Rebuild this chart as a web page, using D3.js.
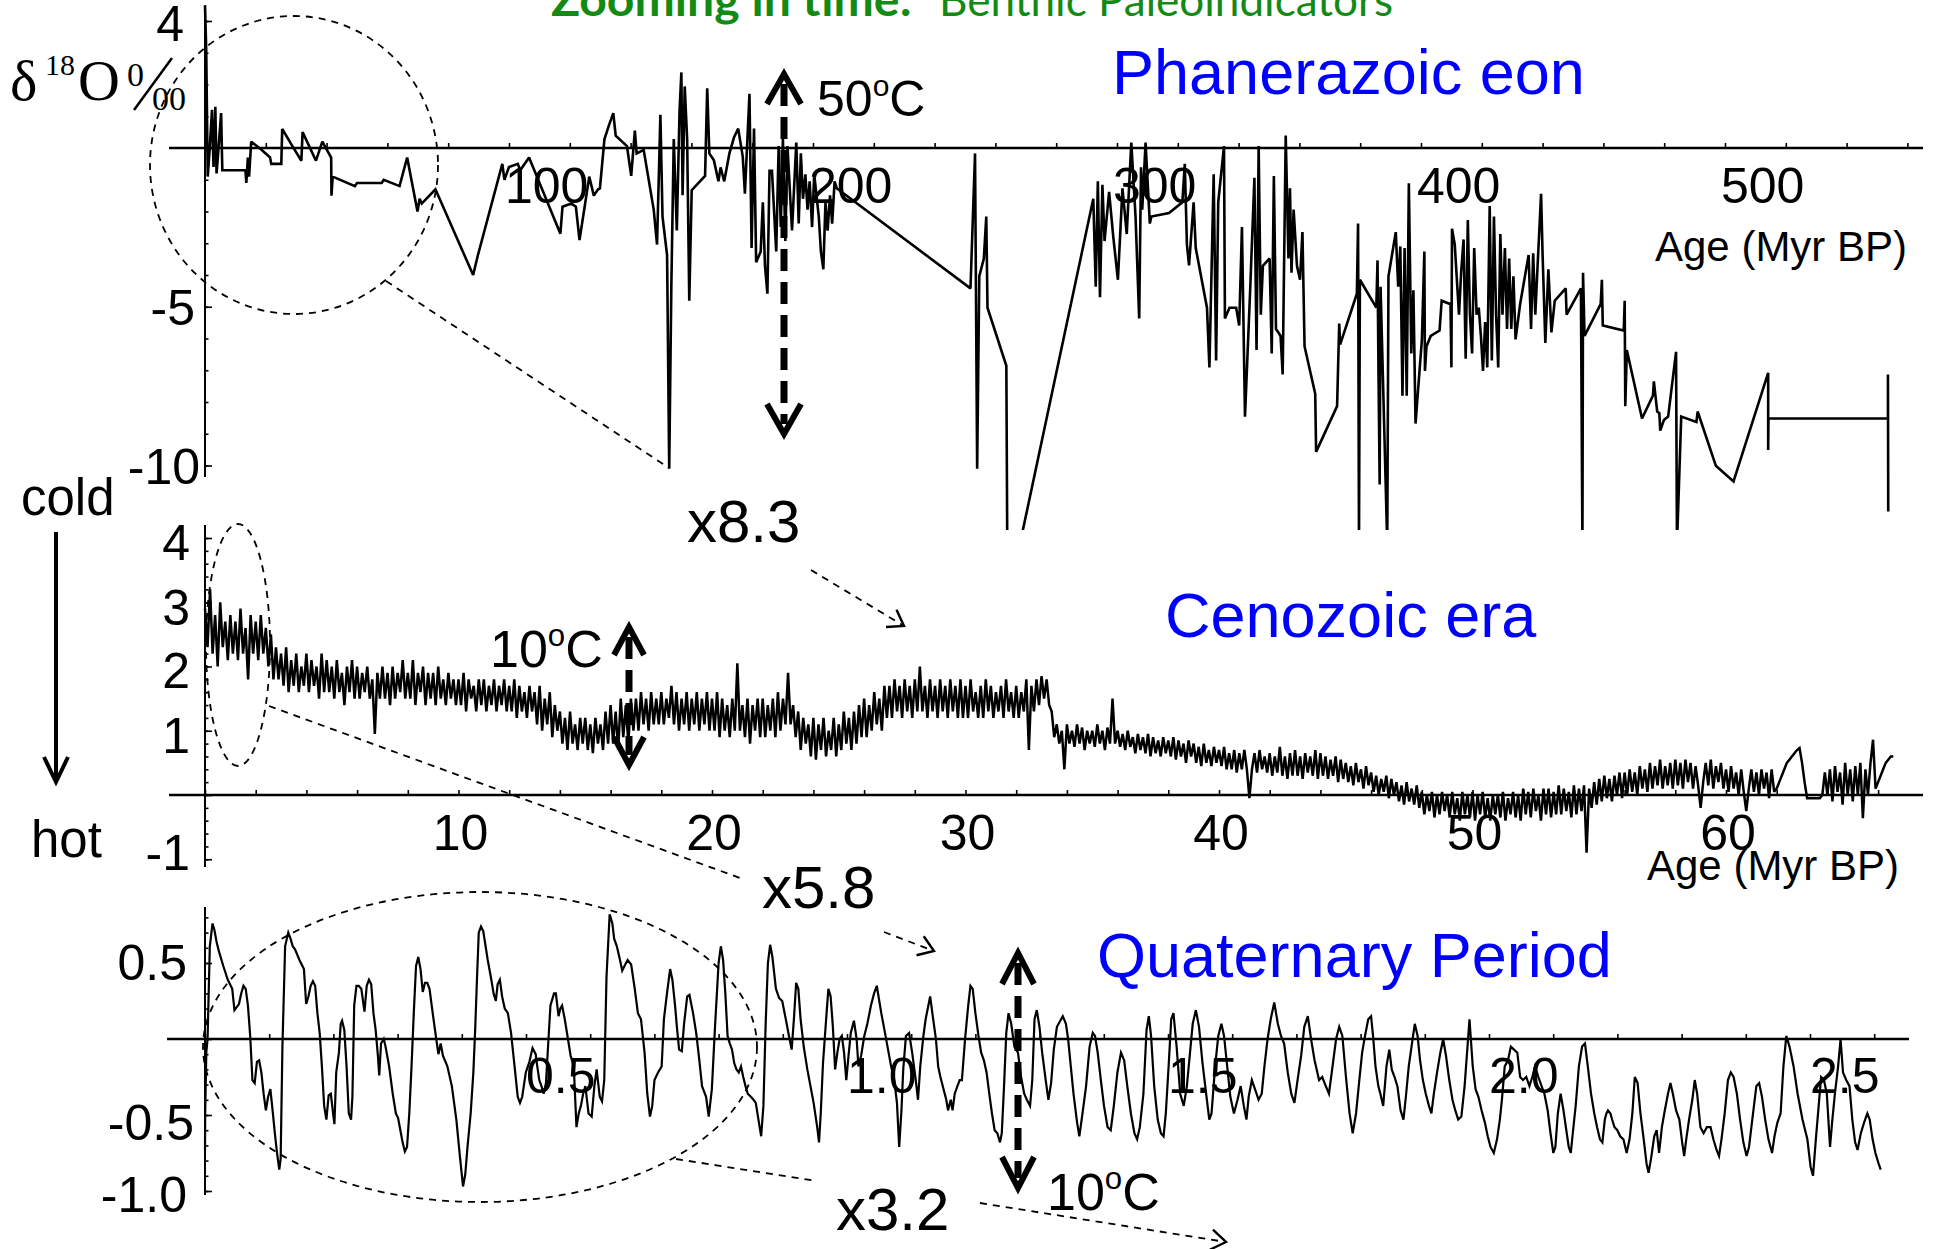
<!DOCTYPE html>
<html><head><meta charset="utf-8">
<script src="https://cdn.jsdelivr.net/npm/d3@7"></script>
<style>
body{margin:0;background:#fff;}
text{font-family:"Liberation Sans",Arial,sans-serif;}
</style></head><body>
<svg id="c" width="1933" height="1249"></svg>
<script>
// ---------- DATA ----------
// Phanerozoic eon: [age Myr BP, d18O permil]
const phanerozoic = [[0,4.5],[0.4,3.1],[0.9,-0.9],[1.6,0.05],[2.3,1.2],[2.8,-0.6],[3.4,1.3],[3.8,-0.8],[4.5,0.05],[5.3,1.1],[5.7,-0.7],[13.3,-0.7],[13.6,-1.1],[14.1,-0.3],[14.5,-0.9],[15.2,0.2],[18.5,-0.05],[21.4,-0.3],[21.8,-0.5],[25.1,-0.5],[25.4,0.6],[28.8,0.05],[31.7,-0.4],[32.1,0.5],[36.5,-0.4],[38.6,0.2],[41.5,-0.3],[41.6,-1.5],[42,-0.9],[49.3,-1.2],[50,-1.1],[58.1,-1.1],[58.8,-1.0],[64,-1.2],[66.5,-0.3],[69.9,-2.0],[70.6,-1.6],[71.3,-1.75],[75.8,-1.3],[88.2,-4.0],[89.7,-3.4],[97.8,-0.5],[98.5,-1.0],[100,-0.6],[102.9,-0.5],[103.7,-0.7],[106.6,-0.3],[116.9,-2.7],[117.6,-1.85],[120.5,-1.75],[122,-1.85],[123.2,-2.9],[126.4,-0.9],[127.9,-1.5],[129.3,-1.3],
[129.9,-1.27],[131.4,0.28],[132.9,0.72],[134.3,1.1],[135.1,0.39],[138.8,0.06],[140.2,-0.88],[141.4,0.55],[142,-0.17],[144.3,-0.06],[147.6,-1.94],[148.7,-3.04],[149.8,1.05],[150.5,-2.16],[152,-3.37],[152.7,-10.1],[153.4,-4.37],[154.2,0.28],[155.2,-2.6],[156.1,1.16],[156.7,2.38],[157.1,-1.49],[157.8,1.94],[158.6,0.28],[159.3,-4.81],[160.1,-1.33],[164.5,-0.88],[165.2,1.88],[165.9,-0.17],[167.4,-0.39],[168.9,-1.05],[169.6,-0.61],[170.8,-1.05],[172.5,-0.17],[174,0.33],[175.4,0.61],[176.9,-0.28],[177.6,-1.44],[179.1,1.71],[179.8,-3.15],[180.6,0.61],[181.3,-3.6],[182.8,-3.26],[183.5,-1.71],[184.2,-3.7],[185,-4.59],[185.7,-0.72],[186.5,-0.72],[187.9,-3.26],[188.7,0.06],[189.4,-2.49],[190.1,0.28],[190.9,-2.93],[191.6,0.06],[193.1,-2.6],[194.5,0.17],[195.3,-2.38],[196,-0.17],[196.7,-1.6],[197.5,-0.83],[198.2,-1.94],[198.9,-1.05],[199.7,-2.49],[200.4,-0.83],[201.9,-2.16],[202.6,-3.26],[203.4,-3.82],[204.1,-1.71],[204.8,-2.6],[205.6,-1.49],[206.3,-2.38],[207.1,-1.05],[207.8,-1.27],[251.8,-4.42],[253.3,-0.17],[254,-10.1],[254.7,-4.04],[256.2,-3.48],[257,-2.16],[257.4,-5.03],[263.6,-6.86],[263.9,-12.5],[268,-12.5],[292.2,-1.6],[293,-4.37],[293.7,-1.05],[294.4,-4.7],[295.2,-1.16],[295.9,-2.93],[297.4,-1.38],[298.8,-2.82],[300.3,-4.15],[301.8,-1.27],[303.2,-2.71],[304.7,0.17],[306.1,-2.16],[307.3,-5.37],[307.9,-0.61],[308.3,-1.94],[309.4,0.17],[310.8,-2.38],[311.3,-2.16],[317.1,-2.05],[321.5,-1.71],[322.3,-0.5],[323,-3.04],[323.7,-3.7],[325.2,-1.71],[325.9,-3.15],[329.6,-5.03],[330.4,-6.91],[331.8,-0.83],[332.6,-6.69],[333.3,-1.71],[335.2,0.06],[335.5,-5.37],[337,-5.03],[339.2,-5.03],[340.2,-5.59],[341.1,-2.49],[342.1,-8.46],
[343.8,-4.48],[345.2,-0.94],[345.9,-6.36],[346.6,0.06],[347.3,-5.25],[348,-3.71],[350.2,-3.48],[350.9,-6.47],[351.6,-0.88],[352.3,-5.7],[353.1,-5.81],[353.8,-5.92],[354.5,-7.13],[355.5,0.39],[356.4,-3.48],[356.9,-1.27],[357.4,-3.93],[358.1,-1.94],[359.2,-3.71],[360.2,-4.15],[361,-2.65],[361.7,-6.25],[365.2,-7.74],[365.5,-9.57],[372.4,-8.13],[373.1,-5.53],[373.4,-6.19],[378.9,-4.59],[379.3,-2.38],[379.6,-12.5],[379.9,-4.15],[385.3,-5.03],[385.7,-3.54],[386,-6.91],[386.4,-10.6],[386.7,-4.37],[388.9,-12.5],[389.3,-4.04],[391.7,-2.65],[392.5,-4.37],[393.2,-3.1],[393.9,-7.8],[394.6,-3.15],[395.3,-7.8],[396,-1.11],[396.8,-6.47],[397.5,-4.48],[398.2,-8.68],[400.3,-6.03],[401.1,-3.26],[401.3,-7.02],[401.8,-6.25],[403.2,-5.92],[406.1,-5.75],[406.8,-4.81],[409.7,-4.92],[410,-6.91],[410.2,-2.54],[411.1,-3.04],[412.5,-5.25],[413.2,-3.93],[414,-2.88],[414.7,-6.64],[415.4,-2.27],[416.1,-5.25],[416.8,-6.47],[417.5,-3.15],[418.3,-5.25],[419,-5.03],[419.7,-5.92],[420.4,-7.02],[421.1,-5.48],[421.8,-6.91],[422.6,-1.83],[423.3,-6.69],[424,-2.16],[424.7,-5.25],[425.4,-6.91],[426.1,-2.71],[426.8,-5.25],[427.6,-3.15],[428.3,-5.7],[429,-3.48],[429.7,-5.7],[430.4,-4.04],[431.1,-6.03],[432.6,-4.92],[435.4,-3.37],[436.2,-5.7],[436.9,-3.32],[437.6,-5.25],[438.3,-3.82],[439.5,-1.44],[440,-3.37],[440.9,-6.14],[441.9,-3.82],[442.9,-5.81],[444,-4.81],[447.6,-4.42],[447.9,-5.25],[452.6,-4.42],[453.1,-12.5],[453.3,-3.93],[453.8,-5.92],[459.1,-4.92],[459.5,-4.15],[459.8,-5.59],[466.7,-5.75],[467,-4.81],[467.2,-8.13],[467.7,-6.36],[472.7,-8.52],[476.3,-7.8],[476.6,-7.35],[477.7,-8.3],[478.4,-8.35],[478.7,-8.9],[479.9,-8.57],[481.3,-8.46],[483.9,-6.42],[484.2,-12.5],[485.6,-8.46],[490.6,-8.63],[491,-8.3],[497,-10.01],[502.8,-10.5],[514.2,-7.08],[514.2,-9.51],[514.3,-8.52],[553.6,-8.52],[553.6,-7.13],[553.7,-11.45]];

// Cenozoic era: d18O sampled every 0.1 Myr from 0 Myr BP (one row per Myr)
const cenoStep = 0.1;
const cenozoic = [
2.9,2.3,3.2,2.2,2.8,2.0,3.0,2.3,2.7,2.1,
2.8,2.2,2.7,2.1,2.9,2.2,2.6,1.8,2.8,2.2,
2.7,2.1,2.8,2.2,2.6,2.0,2.5,1.8,2.3,1.8,
2.2,1.7,2.3,1.6,2.1,1.7,2.2,1.6,2.0,1.7,
2.2,1.6,2.1,1.7,2.0,1.5,2.2,1.6,2.1,1.6,
2.0,1.5,2.1,1.6,1.9,1.4,2.0,1.6,2.1,1.5,
2.0,1.5,1.9,1.6,2.0,1.5,1.8,0.95,1.9,1.5,
2.0,1.5,1.9,1.4,2.0,1.5,1.9,1.6,2.1,1.5,
1.9,1.5,2.1,1.4,1.9,1.6,2.0,1.4,1.9,1.5,
1.9,1.4,2.0,1.5,1.8,1.4,1.9,1.5,1.8,1.4,
1.8,1.4,1.9,1.3,1.8,1.5,1.7,1.3,1.8,1.4,
1.8,1.3,1.7,1.4,1.8,1.3,1.7,1.4,1.8,1.3,
1.7,1.3,1.8,1.2,1.7,1.3,1.6,1.2,1.7,1.3,
1.6,1.1,1.7,1.0,1.5,1.1,1.6,0.9,1.4,1.0,
1.3,0.8,1.2,0.7,1.3,0.8,1.1,0.7,1.2,0.8,
1.2,0.7,1.1,0.65,1.2,0.8,1.1,0.7,1.3,0.8,
1.4,0.8,1.3,0.7,1.5,0.9,1.4,0.8,1.5,1.0,
1.5,1.0,1.6,1.1,1.5,1.0,1.6,1.1,1.5,1.1,
1.6,1.1,1.5,1.2,1.7,1.1,1.6,1.0,1.5,1.1,
1.6,1.0,1.5,1.1,1.6,1.0,1.5,1.1,1.6,1.0,
1.5,1.0,1.6,0.9,1.5,1.0,1.4,0.9,1.5,1.0,
2.05,1.0,1.4,0.9,1.5,0.8,1.4,1.0,1.5,0.9,
1.5,0.9,1.4,1.0,1.5,0.9,1.6,1.0,1.5,1.1,
1.9,1.1,1.4,0.9,1.3,0.7,1.2,0.8,1.1,0.6,
1.2,0.55,1.1,0.7,1.2,0.6,1.0,0.7,1.2,0.6,
1.1,0.7,1.3,0.8,1.2,0.7,1.3,0.8,1.4,0.9,
1.5,0.9,1.4,1.0,1.6,1.1,1.5,1.0,1.7,1.2,
1.7,1.2,1.8,1.3,1.7,1.2,1.8,1.3,1.7,1.2,
1.8,1.3,2.0,1.3,1.7,1.2,1.8,1.3,1.7,1.2,
1.8,1.3,1.7,1.2,1.8,1.3,1.7,1.2,1.8,1.2,
1.7,1.2,1.8,1.3,1.6,1.2,1.7,1.2,1.8,1.3,
1.7,1.2,1.6,1.3,1.7,1.2,1.8,1.3,1.6,1.2,
1.7,1.2,1.6,1.3,1.8,0.7,1.7,1.3,1.8,1.4,
1.85,1.5,1.8,1.4,1.3,0.9,1.1,0.8,1.0,0.4,
1.1,0.8,1.0,0.75,1.1,0.8,1.05,0.7,1.0,0.8,
1.0,0.75,1.1,0.8,1.0,0.7,1.05,0.8,1.5,0.8,
1.0,0.75,0.95,0.7,1.0,0.75,0.9,0.65,0.95,0.7,
0.9,0.65,0.95,0.6,0.9,0.65,0.85,0.6,0.9,0.65,
0.85,0.6,0.9,0.55,0.85,0.6,0.8,0.5,0.85,0.6,
0.8,0.5,0.75,0.45,0.8,0.5,0.7,0.45,0.75,0.5,
0.7,0.45,0.75,0.4,0.65,0.4,0.7,0.35,0.65,0.4,
0.7,0.4,-0.05,0.4,0.65,0.35,0.7,0.4,0.6,0.35,
0.65,0.3,0.6,0.35,0.75,0.3,0.6,0.25,0.65,0.3,
0.7,0.3,0.6,0.25,0.65,0.35,0.6,0.3,0.7,0.25,
0.65,0.3,0.6,0.25,0.55,0.3,0.6,0.2,0.55,0.25,
0.5,0.2,0.45,0.15,0.5,0.2,0.4,0.1,0.45,0.15,
0.35,0.05,0.3,0.0,0.25,0.05,0.3,-0.05,0.25,0.0,
0.2,-0.1,0.15,-0.15,0.2,-0.1,0.1,-0.15,0.15,-0.2,
0.05,-0.3,0.0,-0.25,0.05,-0.35,0.0,-0.3,0.05,-0.25,
0.0,-0.35,0.05,-0.3,-0.05,-0.4,0.05,-0.3,0.0,-0.35,
0.05,-0.4,0.0,-0.3,0.05,-0.35,-0.05,-0.4,0.0,-0.3,
0.0,-0.35,0.05,-0.4,-0.05,-0.3,0.05,-0.35,0.0,-0.4,
0.1,-0.3,0.05,-0.35,0.1,-0.25,0.0,-0.4,0.1,-0.3,
0.1,-0.35,0.05,-0.3,0.15,-0.3,0.1,-0.25,0.05,-0.35,
0.15,-0.3,0.1,-0.25,0.15,-0.9,0.1,-0.2,0.2,-0.15,
0.25,-0.1,0.3,-0.05,0.25,-0.1,0.3,0.0,0.35,-0.05,
0.35,0.0,0.4,0.05,0.35,0.0,0.45,0.1,0.4,0.05,
0.5,0.1,0.45,0.15,0.55,0.1,0.45,0.15,0.5,0.1,
0.55,0.15,0.5,0.1,0.55,0.2,0.5,0.1,0.45,0.15,
-0.2,0.2,0.5,0.15,0.55,0.1,0.45,0.2,0.5,0.1,
0.4,0.05,0.45,0.1,0.35,0.0,0.4,0.05,-0.25,0.1,
0.4,0.05,0.35,0.0,0.4,0.1,0.35,-0.05,0.4,0.05,
0.1,0.2,0.3,0.4,0.5,0.55,0.6,0.65,0.7,0.73,
0.5,0.2,-0.05,-0.05,-0.05,-0.05,-0.05,-0.05,0.0,0.35,
0.0,0.4,-0.1,0.45,0.05,0.35,-0.15,0.5,0.0,0.4,
-0.1,0.45,0.0,0.5,-0.36,0.4,0.0,0.5,0.86,0.1,
0.2,0.3,0.4,0.5,0.55,0.6,0.6];

// Quaternary period: [age kyr BP, d18O anomaly]
const quaternary = [[0,-0.73],[0.3,-0.49],[2,-0.09],[4,0],[7.5,0.61],[11.7,0.76],[14.5,0.72],[18,0.64],[21.5,0.58],[28.5,0.48],[35.5,0.39],[42.4,0.33],[45.9,0.19],[52.9,0.23],[56.4,0.3],[59.9,0.35],[63.4,0.33],[66.9,0.22],[70.4,0.02],[73.9,-0.27],[77.4,-0.29],[80.9,-0.15],[84.3,-0.14],[87.8,-0.22],[91.3,-0.36],[94.8,-0.47],[98.3,-0.38],[101.8,-0.33],[105.3,-0.47],[108.8,-0.62],[112.2,-0.75],[115.7,-0.86],[117.8,-0.79],[120.6,-0.05],[124.8,0.61],[129.7,0.7],[133.2,0.66],[136.7,0.61],[140.2,0.59],[147.1,0.52],[154.1,0.46],[157.6,0.23],[161.1,0.28],[164.6,0.35],[168.1,0.38],[171.6,0.35],[175.1,0.17],[178.6,0.04],[182.1,-0.18],[185.6,-0.44],[189.1,-0.53],[192.6,-0.37],[196,-0.36],[199.5,-0.49],[201.6,-0.56],[204.4,-0.22],[208.6,-0.09],[211.4,0.1],[213.5,0.12],[217,0.06],[220.5,-0.18],[224,-0.49],[227.5,-0.53],[229.6,-0.38],[232.4,0.22],[235.9,0.35],[239.4,0.35],[243.5,0.33],[248.4,0.18],[251.9,0.35],[255.4,0.39],[258.9,0.36],[262.4,0.17],[265.8,0.06],[269.3,-0.11],[271.4,-0.24],[274.2,-0.03],[278.4,0],[281.2,-0.05],[286.8,-0.18],[292.4,-0.36],[297.3,-0.49],[300.8,-0.52],[304.3,-0.6],[307.8,-0.68],[311.3,-0.74],[314.7,-0.71],[318.2,-0.49],[321.7,-0.18],[325.2,0.17],[328.7,0.48],[332.2,0.54],[335.7,0.46],[339.2,0.31],[342.7,0.37],[346.2,0.37],[349.7,0.33],[355.3,0.15],[360.2,0],[363.6,-0.1],[367.1,-0.03],[370.6,-0.11],[377.5,-0.18],[384.5,-0.31],[391.5,-0.53],[397,-0.77],[401.9,-0.97],[405.4,-0.89],[408.9,-0.71],[413.8,-0.49],[418,-0.22],[420.8,0.06],[423.6,0.39],[426.4,0.7],[429.9,0.74],[433.4,0.71],[440.4,0.52],[446,0.39],[449.5,0.3],[453,0.25],[455.8,0.36],[459.3,0.39],[462.8,0.28],[466.9,0.2],[471.8,0.17],[476.7,0.04],[482.2,-0.18],[487.1,-0.38],[490.6,-0.42],[494.1,-0.38],[499.7,-0.22],[505.3,-0.15],[510.2,-0.06],[515.1,-0.1],[517.2,-0.17],[520.7,-0.27],[524.1,-0.31],[527.6,-0.36],[531.1,-0.29],[534.6,-0.03],[538.1,0.22],[543.7,0.3],[546.5,0.3],[550.7,0.15],[553.4,0.2],[556.2,0.22],[560.4,0.13],[564.6,0.02],[569.5,-0.11],[574.4,-0.18],[578.6,-0.58],[582.1,-0.49],[585.5,-0.44],[589,-0.36],[592.5,-0.31],[597.4,-0.49],[602.3,-0.51],[606.5,-0.31],[610,-0.2],[614.9,-0.38],[618.4,-0.41],[621.9,-0.27],[625.4,0.41],[630.3,0.82],[634.5,0.76],[637.3,0.66],[641.5,0.61],[646.4,0.52],[649.9,0.45],[653.4,0.48],[658.3,0.52],[663.8,0.49],[669.4,0.33],[674.3,0.17],[679.1,0.13],[684.7,-0.09],[688.9,-0.36],[693.1,-0.51],[696.6,-0.44],[700.1,-0.27],[705.7,-0.22],[711.3,-0.18],[714.8,0.13],[719.6,0.3],[724.5,0.46],[728,0.39],[732.2,0.22],[735,0.08],[738.5,-0.07],[742.7,-0.08],[746.2,0.1],[751.1,0.28],[754.6,0.29],[760.2,0.17],[765.1,0.04],[770,-0.14],[774.2,-0.31],
[780.5,-0.38],[784.6,-0.51],[789.5,-0.33],[794.4,0.08],[800,0.5],[803.5,0.61],[807,0.52],[810.5,0.3],[814,0.02],[817.5,-0.03],[820.9,-0.07],[824.4,-0.16],[827.9,-0.2],[831.4,-0.22],[834.9,-0.18],[838.4,-0.25],[841.9,-0.31],[845.4,-0.36],[850.3,-0.38],[854.4,-0.4],[857.9,-0.42],[862.8,-0.55],[866.3,-0.64],[869.8,-0.44],[873.3,0.1],[876.8,0.5],[880.3,0.62],[883.8,0.54],[889.3,0.33],[894.2,0.27],[899.1,0.25],[904.7,0.13],[909.6,0.02],[913.8,-0.07],[917.3,0.13],[920.8,0.37],[924.2,0.33],[927.7,0.13],[932.6,-0.05],[938.2,-0.2],[943.1,-0.31],[948,-0.42],[953.6,-0.58],[956.4,-0.68],[959.1,-0.49],[962.6,-0.16],[967.5,0.13],[971,0.33],[974.5,0.28],[978,0.08],[981.5,-0.2],[985,-0.09],[988.5,0],[992,0.02],[995.4,-0.09],[998.9,-0.27],[1002.4,-0.11],[1005.9,0.04],[1010.8,0.12],[1015,0],[1017.8,-0.18],[1022,-0.11],[1026.9,0.02],[1031.7,0.1],[1037.3,0.22],[1042.2,0.3],[1046.4,0.35],[1049.9,0.26],[1053.4,0.17],[1058.3,0.06],[1063.1,-0.05],[1068.7,-0.18],[1073.6,-0.27],[1077.8,-0.42],[1081.3,-0.71],[1084.8,-0.47],[1087.6,-0.2],[1091.8,0.02],[1096.7,0.04],[1101.5,-0.09],[1107.1,-0.27],[1110.6,-0.4],[1114.1,-0.18],[1119,0.02],[1122.5,0.13],[1126.7,0.22],[1129.5,0.28],[1133.6,0.15],[1138.5,0],[1142,-0.18],[1145.5,-0.25],[1150.4,-0.33],[1154.6,-0.4],[1157.4,-0.47],[1161.6,-0.4],[1164.4,-0.47],[1167.8,-0.36],[1172,-0.31],[1175.5,-0.27],[1179,-0.27],[1183.9,0],[1188.8,0.22],[1192.3,0.35],[1195.8,0.33],[1200,0.17],[1204.8,0.02],[1209,-0.09],[1213.2,-0.14],[1217.4,-0.22],[1221.6,-0.36],[1225.8,-0.49],[1230,-0.6],[1234.2,-0.62],[1238.3,-0.68],[1241.1,-0.62],[1244.6,-0.31],[1248.1,0.04],[1251.6,0.17],[1255.8,0.1],[1260.7,-0.05],[1266.3,-0.09],[1271.2,-0.25],[1276,-0.36],[1280.2,-0.4],[1285.1,-0.44],[1288.6,-0.27],[1292.1,0.13],[1295.6,0.19],[1299.8,0.08],[1304,-0.09],[1309.5,-0.27],[1313.7,-0.4],[1317.9,-0.29],[1322.1,-0.07],[1327,0.08],[1336.1,0.15],[1341,0.1],[1344.4,0],[1348.6,-0.18],[1352.8,-0.36],[1358.4,-0.55],[1361.9,-0.64],[1366.8,-0.49],[1372.4,-0.31],[1377.9,-0.05],[1382.8,0.04],[1386.3,0.02],[1390.5,-0.09],[1395.4,-0.27],[1400.3,-0.44],[1405.9,-0.58],[1410.8,-0.6],[1415.6,-0.44],[1421.2,-0.22],[1426.8,-0.09],[1431.7,-0.14],[1436.6,-0.31],[1442.2,-0.49],[1447.7,-0.62],[1451.9,-0.66],[1456.1,-0.58],[1461.7,-0.36],[1466.6,0.06],[1470.1,0.15],[1473.6,0.02],[1478.5,-0.31],[1484,-0.53],[1488.9,-0.62],[1493.1,-0.64],[1496.6,-0.49],[1501.5,-0.14],[1505,0.13],[1508.5,0.17],[1513.4,-0.05],[1519,-0.36],[1524.5,-0.44],[1529.4,-0.31],[1534.3,-0.09],[1538.5,0.1],[1543.4,0.19],[1548.3,0.08],[1553.8,-0.16],[1559.4,-0.36],[1564.3,-0.53],[1567.8,-0.49],[1573.4,-0.18],[1578.3,0.02],[1583.2,0.1],[1587.3,0.02],[1592.2,-0.18],[1597.1,-0.38],[1602.7,-0.49],[1608.3,-0.4],[1613.2,-0.31],[1618.1,-0.44],[1622.2,-0.53],[1625.7,-0.38],[1630.6,-0.27],[1635.5,-0.33],[1641.1,-0.4],[1646,-0.36],[1650.2,-0.18],[1655.1,0],[1660,0.13],[1665.5,0.24],[1671.1,0.1],[1676,0.02],[1680.9,-0.03],[1686.5,-0.22],[1692,-0.36],[1696.9,-0.42],[1701.8,-0.27],[1707.4,-0.11],[1712.3,0.08],[1717.8,0.15],[1722.8,0],[1728.3,-0.14],[1735.3,-0.27],[1740.2,-0.25],[1745.8,-0.31],[1750.7,-0.36],[1756.3,-0.18],[1761.8,0],[1766.7,0.08],[1771.6,0.02],[1777.2,-0.25],[1782.8,-0.49],[1787.7,-0.62],
[1792.9,-0.49],[1798,-0.27],[1802.4,-0.09],[1806.8,0.02],[1811.9,0.13],[1816.3,0.15],[1819.4,0.02],[1823.2,-0.18],[1827.6,-0.31],[1830.8,-0.36],[1835.2,-0.44],[1840.3,-0.18],[1844.7,-0.07],[1848.5,-0.2],[1852.9,-0.25],[1857.3,-0.31],[1862.3,-0.47],[1866.8,-0.53],[1870.5,-0.38],[1875,-0.18],[1880,-0.03],[1884.4,0.1],[1888.8,0.02],[1892.6,-0.14],[1897,-0.27],[1901.5,-0.36],[1906.5,-0.44],[1910.3,-0.49],[1914.1,-0.36],[1919.1,-0.22],[1924.2,-0.09],[1928.6,0],[1933,-0.11],[1938.1,-0.27],[1943.1,-0.4],[1947.5,-0.47],[1952,-0.53],[1957,-0.51],[1962,-0.31],[1966.5,-0.05],[1969.6,0.13],[1974.7,-0.18],[1979.1,-0.33],[1983.5,-0.38],[1988.5,-0.47],[1993.6,-0.55],[1998,-0.64],[2002.4,-0.71],[2007.5,-0.75],[2012.5,-0.66],[2016.9,-0.53],[2020.1,-0.4],[2024.5,-0.18],[2029.6,-0.14],[2034,-0.05],[2039,-0.07],[2044.1,-0.09],[2048.5,-0.25],[2052.9,-0.27],[2058,-0.25],[2063,-0.31],[2067.4,-0.25],[2071.8,-0.18],[2076.9,-0.25],[2081.9,-0.31],[2086.3,-0.36],[2091.4,-0.47],[2095.8,-0.62],[2100.2,-0.75],[2103.4,-0.71],[2107.2,-0.49],[2111.6,-0.36],[2116,-0.47],[2121.1,-0.62],[2124.2,-0.71],[2127.4,-0.75],[2130.5,-0.62],[2135,-0.44],[2140,-0.18],[2145,-0.05],[2149.5,-0.03],[2153.9,-0.18],[2158.9,-0.36],[2164,-0.49],[2168.4,-0.58],[2172.8,-0.66],[2176.6,-0.68],[2180.4,-0.53],[2182.9,-0.49],[2185.4,-0.47],[2189.2,-0.49],[2191.7,-0.53],[2195.5,-0.58],[2199.9,-0.6],[2204.3,-0.64],[2209.4,-0.66],[2214.4,-0.75],[2218.9,-0.66],[2223.3,-0.49],[2227.1,-0.25],[2231.5,-0.29],[2235.9,-0.49],[2241,-0.66],[2245.4,-0.82],[2248.5,-0.88],[2252.3,-0.79],[2257.4,-0.64],[2261.2,-0.6],[2264.9,-0.75],[2269.3,-0.58],[2273.8,-0.47],[2278.8,-0.36],[2282.6,-0.29],[2286.4,-0.36],[2291.4,-0.47],[2296.5,-0.53],[2300.9,-0.68],[2304,-0.77],[2307.2,-0.66],[2311.6,-0.53],[2316.7,-0.4],[2320.5,-0.27],[2324.2,-0.36],[2329.3,-0.58],[2334.3,-0.62],[2339.4,-0.58],[2345.1,-0.58],[2349.5,-0.66],[2354.5,-0.73],[2358.3,-0.77],[2362.1,-0.66],[2367.1,-0.49],[2372.2,-0.27],[2376.6,-0.22],[2381,-0.25],[2386.1,-0.36],[2391.1,-0.53],[2396.2,-0.68],[2401.2,-0.77],[2405,-0.71],[2410.1,-0.53],[2416.4,-0.31],[2420.8,-0.29],[2425.2,-0.38],[2430.2,-0.53],[2435.3,-0.66],[2440.9,-0.75],[2444.7,-0.64],[2449.2,-0.55],[2454.2,-0.49],[2458.6,-0.18],[2463.1,0.02],[2468.1,-0.05],[2474.4,-0.18],[2480.7,-0.36],[2488.3,-0.53],[2495.9,-0.66],[2500.9,-0.84],[2504.7,-0.9],[2509.1,-0.66],[2513.5,-0.44],[2517.3,-0.25],[2521.7,-0.27],[2526.2,-0.36],[2531.2,-0.71],[2534.4,-0.55],[2538.8,-0.36],[2543.8,-0.18],[2547.6,0],[2551.4,-0.22],[2556.4,-0.27],[2561.5,-0.31],[2565.9,-0.53],[2570.3,-0.68],[2574.1,-0.73],[2579.2,-0.62],[2584.2,-0.55],[2589.3,-0.49],[2593,-0.53],[2597.5,-0.66],[2601.9,-0.75],[2606.9,-0.82],[2610.1,-0.86]];

// tick labels
const p1XTicks = [100,200,300,400,500];
const p1YTicks = [4,-5,-10];
const p2XTicks = [10,20,30,40,50,60];
const p2YTicks = [4,3,2,1,-1];
const p3XTicks = [500,1000,1500,2000,2500];
const p3XLabels = ["0.5","1.0","1.5","2.0","2.5"];
const p3YTicks = [0.5,-0.5,-1.0];
const p3YLabels = ["0.5","-0.5","-1.0"];

// ---------- DRAW ----------
const svg = d3.select("#c");
const SERIF = "'Liberation Serif','Times New Roman',serif";
const GREEN = "#138a13", BLUE = "#0000ff";

const x1 = d3.scaleLinear().domain([0,500]).range([205,1725]);
const y1 = d3.scaleLinear().domain([0,-10]).range([148,465.5]);
const x2 = d3.scaleLinear().domain([0,60]).range([205,1726]);
const y2 = d3.scaleLinear().domain([0,4]).range([795,538]);
const x3 = d3.scaleLinear().domain([0,2500]).range([205,1810]);
const y3 = d3.scaleLinear().domain([0,-1]).range([1039,1191]);

svg.append("defs").append("clipPath").attr("id","clip1")
  .append("rect").attr("x",150).attr("y",0).attr("width",1783).attr("height",530);

function txt(x,y,s,size,opt={}){
  const t = svg.append("text").attr("x",x).attr("y",y).attr("font-size",size)
    .attr("fill",opt.fill||"#000").attr("text-anchor",opt.anchor||"start").text(s);
  if(opt.family) t.style("font-family",opt.family);
  if(opt.weight) t.attr("font-weight",opt.weight);
  return t;
}
function hLine(x0,xe,y,w){ svg.append("line").attr("x1",x0).attr("x2",xe).attr("y1",y).attr("y2",y).attr("stroke","#000").attr("stroke-width",w); }
function vLine(x,y0,ye,w){ svg.append("line").attr("x1",x).attr("x2",x).attr("y1",y0).attr("y2",ye).attr("stroke","#000").attr("stroke-width",w); }
function ticksX(x,y0,vals){
  const g = svg.append("g").attr("transform",`translate(0,${y0})`)
    .call(d3.axisTop(x).tickValues(vals).tickSize(5).tickSizeOuter(0).tickFormat(""));
  g.select(".domain").remove();
  g.selectAll("line").attr("stroke","#000").attr("stroke-width",1.6);
}
function ticksY(y,x0,vals,len){
  const g = svg.append("g").attr("transform",`translate(${x0},0)`)
    .call(d3.axisRight(y).tickValues(vals).tickSize(len).tickSizeOuter(0).tickFormat(""));
  g.select(".domain").remove();
  g.selectAll("line").attr("stroke","#000").attr("stroke-width",1.6);
}

// ---- Title ----
txt(551,16,"Zooming in time:",45,{fill:GREEN,weight:"bold",family:"Lato,'Open Sans',sans-serif"})
  .attr("textLength",361).attr("lengthAdjust","spacingAndGlyphs");
txt(939,16,"Benthic Paleoindicators",45,{fill:GREEN,family:"Lato,'Open Sans',sans-serif"})
  .attr("textLength",454).attr("lengthAdjust","spacingAndGlyphs");

// ---- Panel 1 : Phanerozoic ----
hLine(169,1923,y1(0),2.5);
vLine(205,7,477,2);
ticksX(x1,y1(0),d3.range(0,561,20));
ticksY(y1,205,[4,0,-5,-10],7);
ticksY(y1,205,d3.range(-10,5,1),3.5);
const line1 = d3.line().x(d=>x1(d[0])).y(d=>y1(d[1]));
svg.append("path").datum(phanerozoic).attr("d",line1).attr("fill","none")
  .attr("stroke","#000").attr("stroke-width",2.6).attr("stroke-linejoin","miter").attr("stroke-miterlimit",2)
  .attr("clip-path","url(#clip1)");
const p1YEnd = {4:184,"-5":195,"-10":200};
p1YTicks.forEach(v=>txt(p1YEnd[v], y1(v)+18 + (v===4?2:0), String(v),50,{anchor:"end"}));
p1XTicks.forEach(v=>txt(x1(v)-4,203,String(v),50));
txt(1655,261,"Age (Myr BP)",42);
txt(1112,94,"Phanerazoic eon",63,{fill:BLUE});

// delta 18 O permil label
txt(10,100,"\u03b4",58,{family:SERIF});
txt(45,75,"18",30,{family:SERIF});
txt(78,100,"O",58,{family:SERIF});
txt(127,86,"0",34,{family:SERIF});
svg.append("line").attr("x1",134).attr("y1",110).attr("x2",172).attr("y2",58).attr("stroke","#000").attr("stroke-width",2.5);
txt(152,110,"00",34,{family:SERIF});

// ---- Panel 2 : Cenozoic ----
hLine(169,1923,y2(0),2.5);
vLine(205,525,867,2);
ticksX(x2,y2(0),d3.range(0,67,2));
ticksY(y2,205,[4,3,2,1,0,-1],7);
ticksY(y2,205,d3.range(-1,4.01,0.2),3.5);
const line2 = d3.line().x((d,i)=>x2(i*cenoStep)).y(d=>y2(d));
svg.append("path").datum(cenozoic).attr("d",line2).attr("fill","none")
  .attr("stroke","#000").attr("stroke-width",2.5).attr("stroke-linejoin","miter").attr("stroke-miterlimit",2);
const p2YBase = {4:560,3:625,2:688,1:753,"-1":870};
p2YTicks.forEach(v=>txt(190,p2YBase[v],String(v),50,{anchor:"end"}));
p2XTicks.forEach(v=>txt(x2(v)+2,850,String(v),50,{anchor:"middle"}));
txt(1647,880,"Age (Myr BP)",42);
txt(1165,637,"Cenozoic era",63,{fill:BLUE});

// ---- Panel 3 : Quaternary ----
hLine(167,1909,y3(0),2.5);
vLine(205,907,1195,2);
ticksX(x3,y3(0),d3.range(0,2601,100));
ticksY(y3,205,[0.5,0,-0.5,-1],7);
ticksY(y3,205,d3.range(-10,9,1).map(k=>k/10),3.5);
const line3 = d3.line().x(d=>x3(d[0])).y(d=>y3(d[1]));
svg.append("path").datum(quaternary).attr("d",line3).attr("fill","none")
  .attr("stroke","#000").attr("stroke-width",2.2);
const p3YEnd = [187,194,187], p3YBase=[980,1140,1212];
p3YTicks.forEach((v,i)=>txt(p3YEnd[i],p3YBase[i],p3YLabels[i],50,{anchor:"end"}));
p3XTicks.forEach((v,i)=>txt(x3(v),1093,p3XLabels[i],50));
txt(1097,977,"Quaternary Period",63,{fill:BLUE});

// ---- cold / hot ----
txt(21,515,"cold",51);
txt(31,857,"hot",51);
vLine(56,532,780,4);
svg.append("path").attr("d","M44,757 L56,782 L68,757").attr("fill","none").attr("stroke","#000").attr("stroke-width",4);

// ---- thick dashed double arrows ----
function dblArrow(x,yt,yb,hw,hh){
  svg.append("line").attr("x1",x).attr("x2",x).attr("y1",yt+10).attr("y2",yb-10)
    .attr("stroke","#000").attr("stroke-width",7).attr("stroke-dasharray","22,11");
  svg.append("path").attr("d",`M${x-hw},${yt+hh} L${x},${yt} L${x+hw},${yt+hh}`).attr("fill","none").attr("stroke","#000").attr("stroke-width",6);
  svg.append("path").attr("d",`M${x-hw},${yb-hh} L${x},${yb} L${x+hw},${yb-hh}`).attr("fill","none").attr("stroke","#000").attr("stroke-width",6);
}
dblArrow(784,74,434,17,30);
dblArrow(629,627,765,15,28);
dblArrow(1018,953,1188,16,31);

function degC(x,y,size,num){
  const t = svg.append("text").attr("x",x).attr("y",y).attr("font-size",size).attr("fill","#000");
  t.append("tspan").text(num);
  t.append("tspan").attr("font-size",size*0.6).attr("dy",-size*0.4).text("o");
  t.append("tspan").attr("dy",size*0.4).text("C");
}
degC(817,116,50,"50");
degC(490,667,52,"10");
degC(1047,1210,52,"10");

// ---- dashed zoom indicators ----
function dashEllipse(cx,cy,rx,ry){
  svg.append("ellipse").attr("cx",cx).attr("cy",cy).attr("rx",rx).attr("ry",ry)
    .attr("fill","none").attr("stroke","#000").attr("stroke-width",1.8).attr("stroke-dasharray","7,6");
}
function dashLine(xa,ya,xb,yb){
  svg.append("line").attr("x1",xa).attr("y1",ya).attr("x2",xb).attr("y2",yb)
    .attr("stroke","#000").attr("stroke-width",1.8).attr("stroke-dasharray","7,6");
}
function dashArrow(xa,ya,xb,yb){
  dashLine(xa,ya,xb,yb);
  const a = Math.atan2(yb-ya,xb-xa), L=18, s=0.6;
  const p = [[xb-L*Math.cos(a-s), yb-L*Math.sin(a-s)],[xb,yb],[xb-L*Math.cos(a+s), yb-L*Math.sin(a+s)]];
  svg.append("path").attr("d",d3.line()(p)).attr("fill","none").attr("stroke","#000").attr("stroke-width",2.4);
}
dashEllipse(294,165,144,149);
dashLine(386,281,669,468);
txt(687,542,"x8.3",60);
dashArrow(811,570,904,626);

dashEllipse(238,645,32,121);
dashLine(269,706,740,878);
txt(762,908,"x5.8",60);
dashArrow(884,932,934,951);

dashEllipse(480,1047,277,155);
dashLine(676,1159,817,1181);
txt(836,1230,"x3.2",60);
dashArrow(980,1203,1226,1242);
</script>
</body></html>
